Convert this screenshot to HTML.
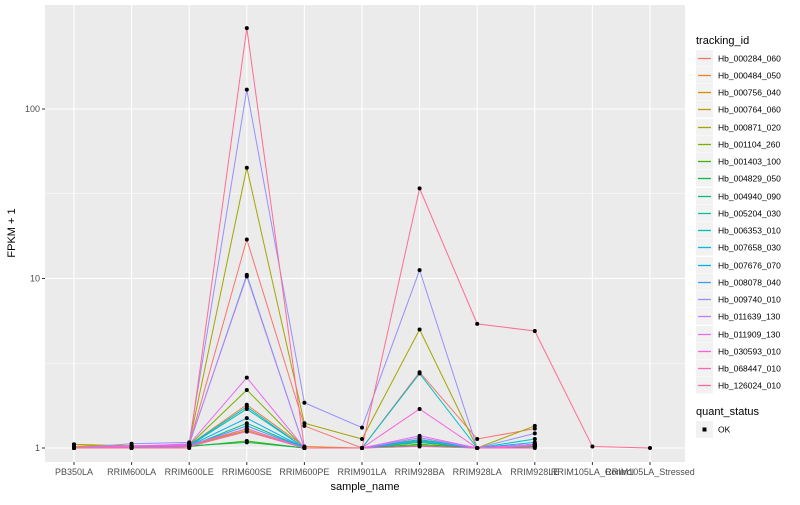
<!DOCTYPE html>
<html><head><meta charset="utf-8"><style>
body{margin:0;background:#fff;font-family:"Liberation Sans",sans-serif}
svg text{font-family:"Liberation Sans",sans-serif}
</style></head><body>
<svg id="c" width="800" height="500" xmlns="http://www.w3.org/2000/svg"></svg>
<script>
const categories=["PB350LA","RRIM600LA","RRIM600LE","RRIM600SE","RRIM600PE","RRIM901LA","RRIM928BA","RRIM928LA","RRIM928LE","RRIM105LA_Control","RRIM105LA_Stressed"];
const seriesIds=["Hb_000284_060","Hb_000484_050","Hb_000756_040","Hb_000764_060","Hb_000871_020","Hb_001104_260","Hb_001403_100","Hb_004829_050","Hb_004940_090","Hb_005204_030","Hb_006353_010","Hb_007658_030","Hb_007676_070","Hb_008078_040","Hb_009740_010","Hb_011639_130","Hb_011909_130","Hb_030593_010","Hb_068447_010","Hb_126024_010"];
const colors=["#F8766D","#EA8331","#D89000","#C09B00","#A3A500","#7CAE00","#39B600","#00BB4E","#00BF7D","#00C1A3","#00BFC4","#00BAE0","#00B0F6","#35A2FF","#9590FF","#C77CFF","#E76BF3","#FA62DB","#FF62BC","#FF6C91"];
const values=[
[1.0,1.02,1.05,17,1.35,1.0,2.8,1.13,1.3,null,null],
[1.02,1.03,1.04,1.8,1.02,1.0,1.05,1.0,1.05,null,null],
[1.0,1.02,1.02,1.3,1.0,1.0,1.1,1.0,1.02,null,null],
[1.05,1.03,1.03,1.27,1.0,1.0,1.08,1.0,1.02,null,null],
[1.05,1.0,1.06,45,1.4,1.13,5.0,1.0,1.35,null,null],
[1.0,1.02,1.04,2.2,1.0,1.0,1.12,1.0,1.05,null,null],
[1.0,1.0,1.02,1.1,1.0,1.0,1.05,1.0,1.02,null,null],
[1.0,1.0,1.03,1.08,1.0,1.0,1.03,1.0,1.02,null,null],
[1.0,1.0,1.02,1.4,1.0,1.0,1.08,1.0,1.03,null,null],
[1.0,1.02,1.03,1.7,1.0,1.0,1.12,1.0,1.05,null,null],
[1.0,1.0,1.05,10.5,1.0,1.0,2.75,1.0,1.13,null,null],
[1.0,1.02,1.04,1.75,1.0,1.0,1.15,1.0,1.05,null,null],
[1.0,1.0,1.03,1.5,1.0,1.0,1.1,1.0,1.08,null,null],
[1.0,1.02,1.03,1.35,1.0,1.0,1.1,1.0,1.05,null,null],
[1.0,1.06,1.08,130,1.85,1.32,11.2,1.0,1.22,null,null],
[1.0,1.02,1.06,10.3,1.0,1.0,1.15,1.0,1.05,null,null],
[1.0,1.03,1.05,2.6,1.0,1.0,1.18,1.0,1.05,null,null],
[1.0,1.02,1.04,1.3,1.0,1.0,1.7,1.0,1.03,null,null],
[1.0,1.0,1.02,1.25,1.0,1.0,1.02,1.0,1.0,null,null],
[1.0,1.0,1.0,300,1.0,1.0,34,5.4,4.9,1.02,1.0]];
const yTicks=[1,10,100];
const ns="http://www.w3.org/2000/svg";
const svg=document.getElementById('c');
function el(t,a,p){const e=document.createElementNS(ns,t);for(const k in a)e.setAttribute(k,a[k]);(p||svg).appendChild(e);return e;}
const P={l:45,r:685,t:5,b:462};
const xs=i=>74+i*57.6;
const ys=v=>448-169.5*Math.log10(v);
const bg=el('rect',{x:P.l,y:P.t,width:P.r-P.l,height:P.b-P.t,fill:'#EBEBEB'});


[Math.sqrt(10),Math.sqrt(1000)].forEach(v=>{el('line',{x1:P.l,x2:P.r,y1:ys(v),y2:ys(v),stroke:'#fff','stroke-width':0.5});});
yTicks.forEach(v=>{
 const g=el('line',{x1:P.l,x2:P.r,y1:ys(v),y2:ys(v),stroke:'#fff','stroke-width':1.1});
 
 
 el('line',{x1:P.l-3,x2:P.l,y1:ys(v),y2:ys(v),stroke:'#333'});
 const t=el('text',{x:P.l-5,y:ys(v)+3,'text-anchor':'end','font-size':9,fill:'#4D4D4D'});t.textContent=v;
 
 
});
categories.forEach((c,i)=>{
 const g=el('line',{x1:xs(i),x2:xs(i),y1:P.t,y2:P.b,stroke:'#fff','stroke-width':1.1});
 
 
 el('line',{x1:xs(i),x2:xs(i),y1:P.b,y2:P.b+3,stroke:'#333'});
 const t=el('text',{x:xs(i),y:475,'text-anchor':'middle','font-size':9,fill:'#4D4D4D'});t.textContent=c;
 
 
});
values.forEach((s,k)=>{
 let d='';let pen=false;
 s.forEach((v,i)=>{if(v==null){pen=false;return;}d+=(pen?'L':'M')+xs(i)+','+ys(v);pen=true;});
 const p=el('path',{d:d,fill:'none',stroke:colors[k],'stroke-width':1});
 
 
});
values.forEach(s=>s.forEach((v,i)=>{if(v==null)return;
 const c=el('circle',{cx:xs(i),cy:ys(v),r:2,fill:'#000'});
 
 
}));
let t=el('text',{x:365,y:490,'text-anchor':'middle','font-size':11,fill:'#000'});t.textContent='sample_name';


t=el('text',{x:0,y:0,transform:'translate(15,233) rotate(-90)','text-anchor':'middle','font-size':11,fill:'#000'});t.textContent='FPKM + 1';


t=el('text',{x:696,y:44,'font-size':11,fill:'#000'});t.textContent='tracking_id';


seriesIds.forEach((s,k)=>{
 const y=Math.round(57.5+k*17.26)+0.5;
 const g=el('g',{});
 
 
 el('rect',{x:696,y:y-8.5,width:17,height:16.5,fill:'#F2F2F2'},g);
 el('line',{x1:698,x2:711,y1:y,y2:y,stroke:colors[k],'stroke-width':1.3},g);
 const tt=el('text',{x:718,y:y+3,'font-size':8.5,fill:'#000'},g);tt.textContent=s;
});
t=el('text',{x:696,y:415,'font-size':11,fill:'#000'});t.textContent='quant_status';


const g2=el('g',{});


el('rect',{x:696,y:421,width:17,height:17,fill:'#F2F2F2'},g2);
el('rect',{x:702.5,y:427.5,width:4,height:4,fill:'#000'},g2);
t=el('text',{x:718,y:432.5,'font-size':8.5,fill:'#000'},g2);t.textContent='OK';
</script>
</body></html>
